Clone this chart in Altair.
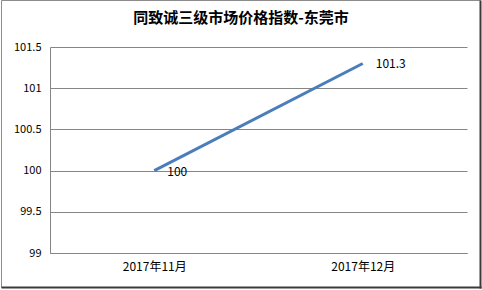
import altair as alt
import pandas as pd

months = ["2017年11月", "2017年12月"]
index_values = [100, 101.3]
y_ticks = [99, 99.5, 100, 100.5, 101, 101.5]
title_text = "同致诚三级市场价格指数-东莞市"

df = pd.DataFrame({"month": months, "value": index_values})

FONT = "Noto Sans CJK SC"
LINE_COLOR = "#4A7EBB"
GRID = "#868686"

x_enc = alt.X("month:N", sort=months, title=None,
              scale=alt.Scale(paddingInner=0, paddingOuter=0),
              axis=alt.Axis(labelAngle=0, labelFontSize=12, labelFont=FONT,
                            labelColor="#000000", labelPadding=8, ticks=False,
                            domainColor=GRID, domainWidth=1, grid=False))
y_enc = alt.Y("value:Q", title=None,
              scale=alt.Scale(domain=[99, 101.5], nice=False, zero=False),
              axis=alt.Axis(values=y_ticks, labelFontSize=11, labelFont=FONT,
                            labelColor="#000000", labelPadding=9, ticks=False,
                            domainColor=GRID, gridColor=GRID, gridWidth=1,
                            labelExpr="datum.value == 101 ? '101' : datum.value == 100 ? '100' : datum.value == 99 ? '99' : datum.label"))

base = alt.Chart(df)

line = base.mark_line(color=LINE_COLOR, strokeWidth=3).encode(x=x_enc, y=y_enc)

labels = base.mark_text(align="left", baseline="middle", dx=13, dy=1,
                        fontSize=12, font=FONT, color="#000000").encode(
    x=alt.X("month:N", sort=months),
    y=alt.Y("value:Q"),
    text=alt.Text("value:Q"),
)

title = alt.Chart(pd.DataFrame({"t": [title_text]})).mark_text(
    font=FONT, fontSize=15, fontWeight="bold", color="#000000",
    align="center", baseline="middle").encode(
    x=alt.value(191), y=alt.value(-29), text="t:N")

# outer chart frame: light top/left edge, darker right/bottom edge
frame = alt.Chart(pd.DataFrame({"t": [0]})).mark_rect(
    fill=None, stroke="#8C8C8C", strokeWidth=1, clip=False).encode(
    x=alt.value(-48.5), x2=alt.value(430.5), y=alt.value(-46.5), y2=alt.value(240.5))
right_edge = alt.Chart(pd.DataFrame({"t": [0]})).mark_rule(
    stroke="#3A3A3A", strokeWidth=2, clip=False).encode(
    x=alt.value(430.5), y=alt.value(-46.5), y2=alt.value(241.5))
bottom_edge = alt.Chart(pd.DataFrame({"t": [0]})).mark_rule(
    stroke="#3A3A3A", strokeWidth=2, clip=False).encode(
    x=alt.value(-48.5), x2=alt.value(431.5), y=alt.value(240.5))

chart = alt.layer(line, labels, title, frame, right_edge, bottom_edge).properties(
    width=417, height=206,
    autosize=alt.AutoSizeParams(type="none"),
    padding={"left": 50, "top": 47, "right": 15, "bottom": 37},
    background="#FFFFFF",
).configure_view(stroke=None)

chart.save("out.html", embed_options={"renderer": "svg", "actions": False})
